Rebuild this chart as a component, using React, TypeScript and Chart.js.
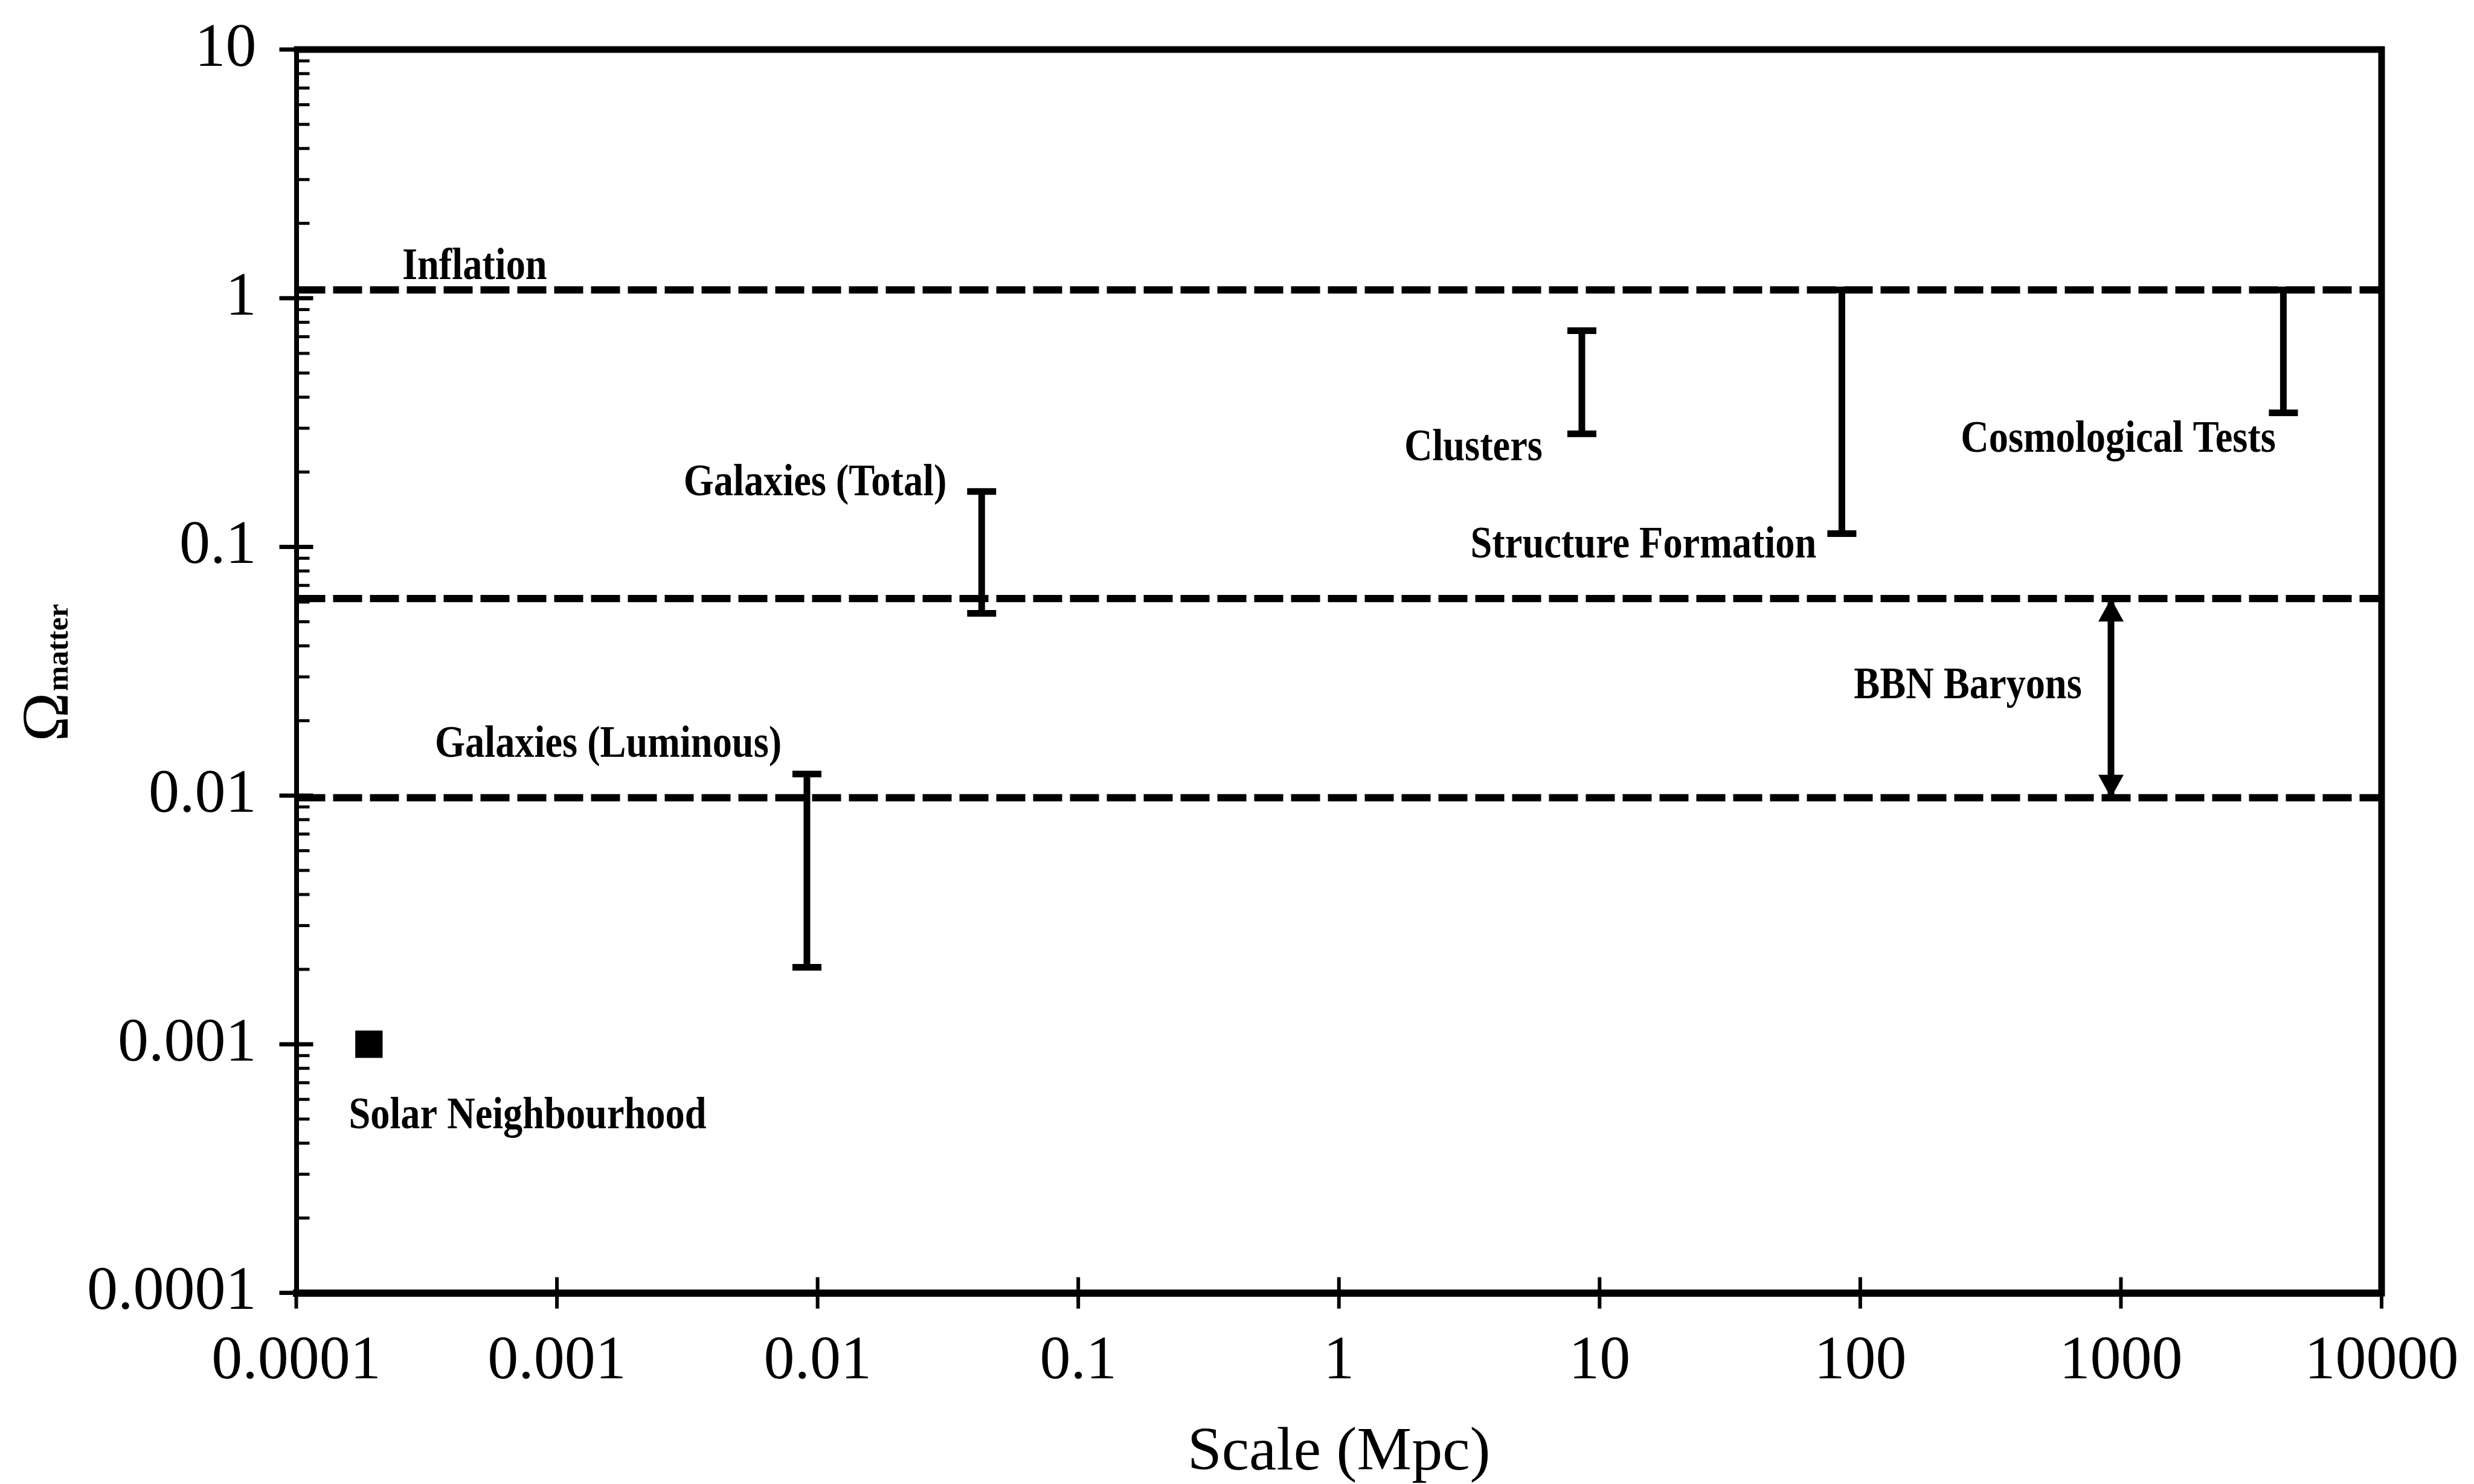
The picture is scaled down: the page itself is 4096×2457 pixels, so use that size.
import React, { useEffect, useRef } from 'react';
import { Chart, registerables } from 'chart.js';

Chart.register(...registerables);

const CANVAS_W = 4096;
const CANVAS_H = 2457;

// Axis ranges and tick labels
const xMin = 0.0001;
const xMax = 10000;
const yMin = 0.0001;
const yMax = 10;
const xTickLabels = ['0.0001', '0.001', '0.01', '0.1', '1', '10', '100', '1000', '10000'];
const yTickLabels = ['0.0001', '0.001', '0.01', '0.1', '1', '10'];

// Horizontal dashed levels (Omega)
const levelNames = ['Inflation', 'BBN upper', 'BBN lower'];
const levelValues = [1.08, 0.062, 0.0098];

// Error bars: scale (Mpc), low and high Omega
const barNames = ['Galaxies (Luminous)', 'Galaxies (Total)', 'Clusters', 'Structure Formation', 'Cosmological Tests'];
const barScales = [0.0091, 0.0426, 8.55, 85, 4200];
const barLows = [0.00204, 0.054, 0.285, 0.113, 0.346];
const barHighs = [0.0122, 0.167, 0.74, 1.08, 1.08];

// BBN baryons double arrow
const bbnScale = [916, 916];
const bbnRange = [0.0098, 0.062];

// Solar neighbourhood point
const solarScale = [0.00019];
const solarOmega = [0.001];

// Text annotations (data coordinates of baseline anchor)
const noteTexts = ['Inflation', 'Galaxies (Total)', 'Galaxies (Luminous)', 'Solar Neighbourhood', 'Clusters', 'Structure Formation', 'Cosmological Tests', 'BBN Baryons'];
const noteX = [0.000255, 0.0313, 0.00728, 0.000159, 6.04, 67.9, 3928, 708];
const noteY = [1.197, 0.1609, 0.01435, 0.000459, 0.2234, 0.0904, 0.2411, 0.02458];
const noteAlign = ['left', 'right', 'right', 'left', 'right', 'right', 'right', 'right'];

const FONT = '"Liberation Serif", "Times New Roman", serif';

function decadeLabel(value: number, labels: string[], minExp: number): string {
  const l = Math.log10(value);
  const e = Math.round(l);
  if (Math.abs(l - e) > 1e-6) return '';
  return labels[e - minExp] ?? '';
}

const decorPlugin = {
  id: 'decor',
  afterDatasetsDraw(chart: any) {
    const { ctx, chartArea: a, scales } = chart;
    const xs = scales.x;
    const ys = scales.y;
    ctx.save();
    ctx.strokeStyle = '#000';
    ctx.fillStyle = '#000';
    ctx.lineCap = 'butt';

    // top and right frame lines
    ctx.lineWidth = 11;
    ctx.beginPath();
    ctx.moveTo(a.left - 4, a.top);
    ctx.lineTo(a.right + 5, a.top);
    ctx.moveTo(a.right, a.top - 5);
    ctx.lineTo(a.right, a.bottom + 6);
    ctx.stroke();

    // y ticks: majors crossing the axis, minors inside
    for (let e = -4; e <= 1; e++) {
      for (let m = 1; m <= 9; m++) {
        const v = m * Math.pow(10, e);
        if (v > yMax * 1.0001) break;
        const py = ys.getPixelForValue(v);
        ctx.beginPath();
        if (m === 1) {
          ctx.lineWidth = 7;
          ctx.moveTo(a.left - 28, py);
          ctx.lineTo(a.left + 28, py);
        } else {
          ctx.lineWidth = 5;
          ctx.moveTo(a.left, py);
          ctx.lineTo(a.left + 22, py);
        }
        ctx.stroke();
      }
    }

    // x ticks: majors crossing the axis
    for (let e = -4; e <= 4; e++) {
      const px = xs.getPixelForValue(Math.pow(10, e));
      ctx.lineWidth = 6;
      ctx.beginPath();
      ctx.moveTo(px, a.bottom - 26);
      ctx.lineTo(px, a.bottom + 26);
      ctx.stroke();
    }

    // arrowheads on the BBN arrow
    chart.data.datasets.forEach((ds: any, i: number) => {
      if (ds.label !== 'BBN Baryons') return;
      const pts = chart.getDatasetMeta(i).data;
      const lo = pts[0];
      const hi = pts[1];
      const hw = 21;
      const hh = 38;
      ctx.beginPath();
      ctx.moveTo(hi.x, hi.y);
      ctx.lineTo(hi.x - hw, hi.y + hh);
      ctx.lineTo(hi.x + hw, hi.y + hh);
      ctx.closePath();
      ctx.fill();
      ctx.beginPath();
      ctx.moveTo(lo.x, lo.y);
      ctx.lineTo(lo.x - hw, lo.y - hh);
      ctx.lineTo(lo.x + hw, lo.y - hh);
      ctx.closePath();
      ctx.fill();
    });

    // annotations
    ctx.font = `bold 74px ${FONT}`;
    ctx.textBaseline = 'alphabetic';
    for (let i = 0; i < noteTexts.length; i++) {
      const px = xs.getPixelForValue(noteX[i]);
      const py = ys.getPixelForValue(noteY[i]);
      ctx.save();
      ctx.translate(px, py);
      ctx.scale(0.87, 1);
      ctx.textAlign = noteAlign[i] as CanvasTextAlign;
      ctx.fillText(noteTexts[i], 0, 0);
      ctx.restore();
    }

    // y axis title: Omega with subscript "matter", rotated
    ctx.save();
    ctx.translate(112, 1228);
    ctx.rotate(-Math.PI / 2);
    ctx.textAlign = 'left';
    ctx.font = `110px ${FONT}`;
    ctx.fillText('Ω', 0, 0);
    const w = ctx.measureText('Ω').width;
    ctx.font = `bold 50px ${FONT}`;
    ctx.fillText('matter', w + 2, 0);
    ctx.restore();

    ctx.restore();
  },
};

export default function App() {
  const ref = useRef<HTMLCanvasElement | null>(null);

  useEffect(() => {
    document.body.style.margin = '0';
    const canvas = ref.current;
    if (!canvas) return;

    const datasets: any[] = [];
    levelValues.forEach((v, i) => {
      datasets.push({
        label: levelNames[i],
        data: [{ x: xMin, y: v }, { x: xMax, y: v }],
        showLine: true,
        borderColor: '#000',
        borderWidth: 12,
        borderDash: [48, 13],
        borderCapStyle: 'butt',
        pointRadius: 0,
      });
    });
    barNames.forEach((n, i) => {
      datasets.push({
        label: n,
        data: [{ x: barScales[i], y: barLows[i] }, { x: barScales[i], y: barHighs[i] }],
        showLine: true,
        borderColor: '#000',
        borderWidth: 11,
        pointStyle: 'line',
        pointRadius: 24,
        pointBorderWidth: 11,
        pointBorderColor: '#000',
        pointBackgroundColor: '#000',
      });
    });
    datasets.push({
      label: 'BBN Baryons',
      data: bbnRange.map((v, i) => ({ x: bbnScale[i], y: v })),
      showLine: true,
      borderColor: '#000',
      borderWidth: 11,
      pointRadius: 0,
    });
    datasets.push({
      label: 'Solar Neighbourhood',
      data: solarScale.map((x, i) => ({ x, y: solarOmega[i] })),
      showLine: false,
      pointStyle: 'rect',
      pointRadius: 32,
      backgroundColor: '#000',
      borderColor: '#000',
      pointBorderWidth: 0,
    });

    const chart = new Chart(canvas, {
      type: 'scatter',
      data: { datasets },
      options: {
        animation: false,
        responsive: false,
        devicePixelRatio: 1,
        events: [],
        layout: { padding: { left: 0, right: 153, top: 82, bottom: 0 } },
        plugins: { legend: { display: false }, tooltip: { enabled: false } },
        scales: {
          x: {
            type: 'logarithmic',
            position: 'bottom',
            min: xMin,
            max: xMax,
            grid: { display: false, drawTicks: false },
            border: { display: true, color: '#000', width: 12 },
            ticks: {
              autoSkip: false,
              maxRotation: 0,
              minRotation: 0,
              padding: 53,
              color: '#000',
              font: { family: FONT, size: 102 },
              callback: (v: any) => decadeLabel(Number(v), xTickLabels, -4),
            },
            title: {
              display: true,
              text: 'Scale (Mpc)',
              color: '#000',
              font: { family: FONT, size: 102, lineHeight: 1.0 },
              padding: { top: 0, bottom: 0 },
            },
            afterFit: (s: any) => {
              s.height = CANVAS_H - 2140.6;
              s.paddingLeft = 0;
              s.paddingRight = 0;
              s.paddingTop = 0;
              s.paddingBottom = 0;
            },
          },
          y: {
            type: 'logarithmic',
            position: 'left',
            min: yMin,
            max: yMax,
            grid: { display: false, drawTicks: false },
            border: { display: true, color: '#000', width: 8 },
            ticks: {
              autoSkip: false,
              padding: 66,
              color: '#000',
              font: { family: FONT, size: 102 },
              callback: (v: any) => decadeLabel(Number(v), yTickLabels, -4),
            },
            afterFit: (s: any) => {
              s.width = 490.5;
              s.paddingLeft = 0;
              s.paddingRight = 0;
              s.paddingTop = 0;
              s.paddingBottom = 0;
            },
          },
        },
      } as any,
      plugins: [decorPlugin],
    });

    return () => chart.destroy();
  }, []);

  return (
    <canvas
      ref={ref}
      width={CANVAS_W}
      height={CANVAS_H}
      style={{ display: 'block', width: CANVAS_W + 'px', height: CANVAS_H + 'px' }}
    />
  );
}
